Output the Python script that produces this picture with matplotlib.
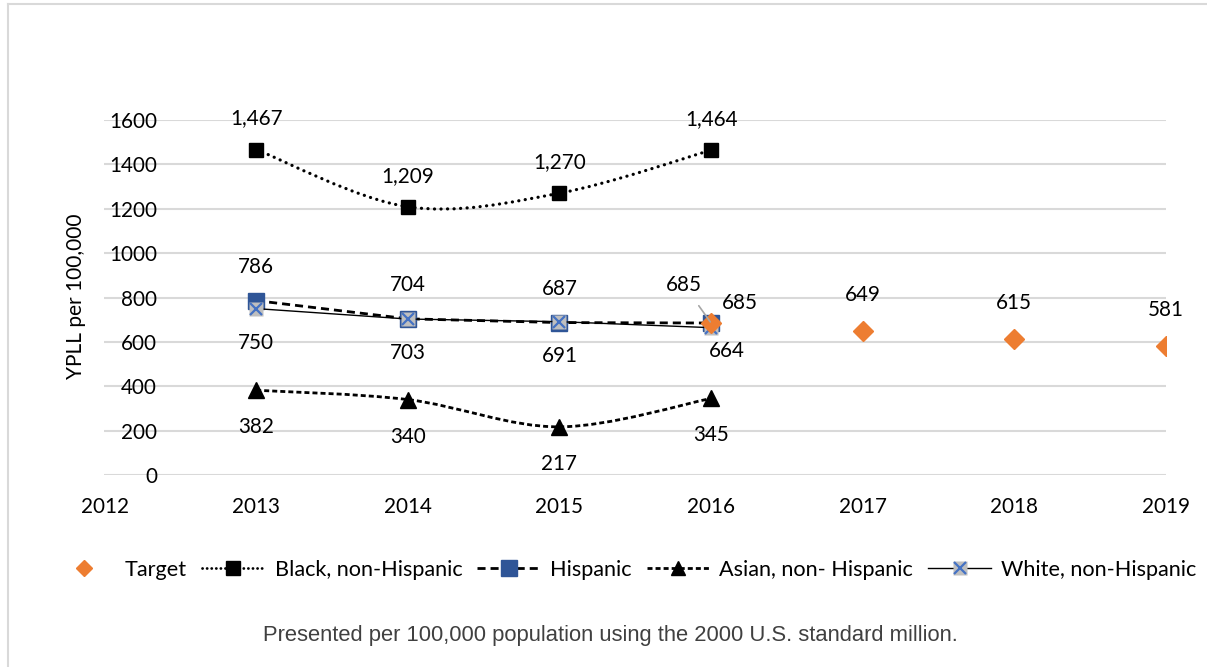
import matplotlib
matplotlib.use("Agg")
import matplotlib.pyplot as plt
from matplotlib.lines import Line2D
from matplotlib.path import Path
from matplotlib.patches import PathPatch
from matplotlib.legend_handler import HandlerTuple
import numpy as np

# ---- data ----
years = [2013, 2014, 2015, 2016]
target_years = [2016, 2017, 2018, 2019]
target = [685, 649, 615, 581]
black = [1467, 1209, 1270, 1464]
hispanic = [786, 704, 687, 685]
asian = [382, 340, 217, 345]
white = [750, 703, 691, 664]
yticks = [0, 200, 400, 600, 800, 1000, 1200, 1400, 1600]
xticks = [2012, 2013, 2014, 2015, 2016, 2017, 2018, 2019]
series_names = ["Target", "Black, non-Hispanic", "Hispanic",
                "Asian, non- Hispanic", "White, non-Hispanic"]
ylabel = "YPLL per 100,000"
footnote = "Presented per 100,000 population using the 2000 U.S. standard million."

plt.rcParams['font.family'] = ['Lato', 'DejaVu Sans']
plt.rcParams['lines.scale_dashes'] = False

ORANGE = "#ED7D31"
BLUE = "#2F5597"
LBLUE = "#4472C4"
GREY = "#BFBFBF"
GRID = "#D9D9D9"
FS = 14.9

W, H = 1207, 667
fig = plt.figure(figsize=(W / 100, H / 100), dpi=100)
ax = fig.add_axes([104.5 / W, 1 - 475 / H, (1166 - 104.5) / W, (475 - 120) / H])

ax.set_xlim(2012, 2019)
ax.set_ylim(0, 1600)
ax.set_yticks(yticks)
ax.set_xticks(xticks)
ax.yaxis.grid(True, color=GRID, lw=1.5, zorder=0)
ax.set_axisbelow(True)
for s in ax.spines.values():
    s.set_visible(False)
ax.tick_params(axis='y', length=0, pad=-37.8, labelsize=FS)
ax.tick_params(axis='x', length=0, pad=16, labelsize=FS)
ax.set_ylabel(ylabel, fontsize=15)
ax.yaxis.set_label_coords((86 - 104.5) / (1166 - 104.5), (475 - 296) / (475 - 120))


def smooth_path(xs, ys):
    pts = np.column_stack([xs, ys]).astype(float)
    n = len(pts)
    verts = [pts[0]]
    codes = [Path.MOVETO]
    for i in range(n - 1):
        p0 = pts[max(i - 1, 0)]
        p1 = pts[i]
        p2 = pts[i + 1]
        p3 = pts[min(i + 2, n - 1)]
        c1 = p1 + (p2 - p0) / 6.0
        c2 = p2 - (p3 - p1) / 6.0
        verts += [c1, c2, p2]
        codes += [Path.CURVE4] * 3
    return Path(verts, codes)


# Black (smoothed, dotted)
ax.add_patch(PathPatch(smooth_path(years, black), fill=False, edgecolor='black',
                       lw=2.3, linestyle=(0, (0.1, 4.6)), capstyle='round', zorder=3))
ax.plot(years, black, ls='none', marker='s', ms=9.6, color='black', zorder=4)

# Hispanic (dashed)
ax.plot(years, hispanic, ls=(0, (5.8, 3.6)), lw=2.0, color='black', zorder=3)
ax.plot(years, hispanic, ls='none', marker='s', ms=11.5, mfc=BLUE, mec=BLUE, zorder=4)

# Asian (smoothed, short dashed)
ax.add_patch(PathPatch(smooth_path(years, asian), fill=False, edgecolor='black',
                       lw=2.0, linestyle=(0, (3.6, 2.2)), zorder=3))
ax.plot(years, asian, ls='none', marker='^', ms=12, color='black', zorder=4)

# White (solid thin)
ax.plot(years, white, ls='-', lw=1.0, color='black', zorder=5)
ax.plot(years, white, ls='none', marker='s', ms=10, mfc=GREY, mec='none', zorder=6)
ax.plot(years, white, ls='none', marker='x', ms=9, mew=1.6, color=LBLUE, zorder=7)

# Target
ax.plot(target_years, target, ls='none', marker='D', ms=10.5, color=ORANGE, zorder=8)

PX = 0.72  # points per pixel


def lab(x, y, v, dx, dy, **kw):
    ax.annotate(f"{v:,}", (x, y), xytext=(dx * PX, dy * PX), textcoords='offset points',
                ha='center', va='center', fontsize=FS, zorder=10, **kw)


for x, v in zip(years, black):
    lab(x, v, v, 0, 31)
for x, v in zip(years[:3], hispanic[:3]):
    lab(x, v, v, 0, 34)
lab(years[3], hispanic[3], hispanic[3], -27, 38,
    arrowprops=dict(arrowstyle='-', color='#A6A6A6', lw=1.2, shrinkA=7, shrinkB=1))
for x, v in zip(years[:3], white[:3]):
    lab(x, v, v, 0, -34)
lab(years[3], white[3], white[3], 16, -23)
for x, v in zip(years, asian):
    lab(x, v, v, 0, -37)
lab(target_years[0], target[0], target[0], 29, 20)
for x, v in zip(target_years[1:], target[1:]):
    lab(x, v, v, 0, 36)

# legend
h_target = Line2D([], [], ls='none', marker='D', ms=8, color=ORANGE)
h_black = Line2D([], [], ls=(0, (0.1, 3.2)), lw=2.0, dash_capstyle='round', color='black',
                 marker='s', ms=9.6, mfc='black', mec='black')
h_hisp = Line2D([], [], ls=(0, (5.8, 3.6)), lw=2.0, color='black',
                marker='s', ms=11, mfc=BLUE, mec=BLUE)
h_asian = Line2D([], [], ls=(0, (3.6, 2.2)), lw=2.0, color='black',
                 marker='^', ms=10, mfc='black', mec='black')
h_white1 = Line2D([], [], ls='-', lw=1.0, color='black', marker='s', ms=10, mfc=GREY, mec='none')
h_white2 = Line2D([], [], ls='none', marker='x', ms=9, mew=1.6, color=LBLUE)
leg = fig.legend([h_target, h_black, h_hisp, h_asian, (h_white1, h_white2)], series_names,
                 loc='center', bbox_to_anchor=(624 / W, 1 - 570 / H), ncol=5, frameon=False,
                 fontsize=15.6, handlelength=2.9, handletextpad=0.45, columnspacing=0.7,
                 borderpad=0.2, numpoints=1,
                 handler_map={tuple: HandlerTuple(ndivide=1, pad=0)})

fig.text(610 / W, 1 - 636 / H, footnote, ha='center', va='center', fontsize=15.8,
         color='#404040', family=['Liberation Sans', 'DejaVu Sans'])

# chart border
fig.add_artist(Line2D([7.5 / W, 7.5 / W], [0, 1 - 4 / H], transform=fig.transFigure,
                      color=GRID, lw=1.5))
fig.add_artist(Line2D([7.5 / W, 1], [1 - 4 / H, 1 - 4 / H], transform=fig.transFigure,
                      color=GRID, lw=1.5))

fig.savefig("out.png", dpi=100, facecolor='white')
